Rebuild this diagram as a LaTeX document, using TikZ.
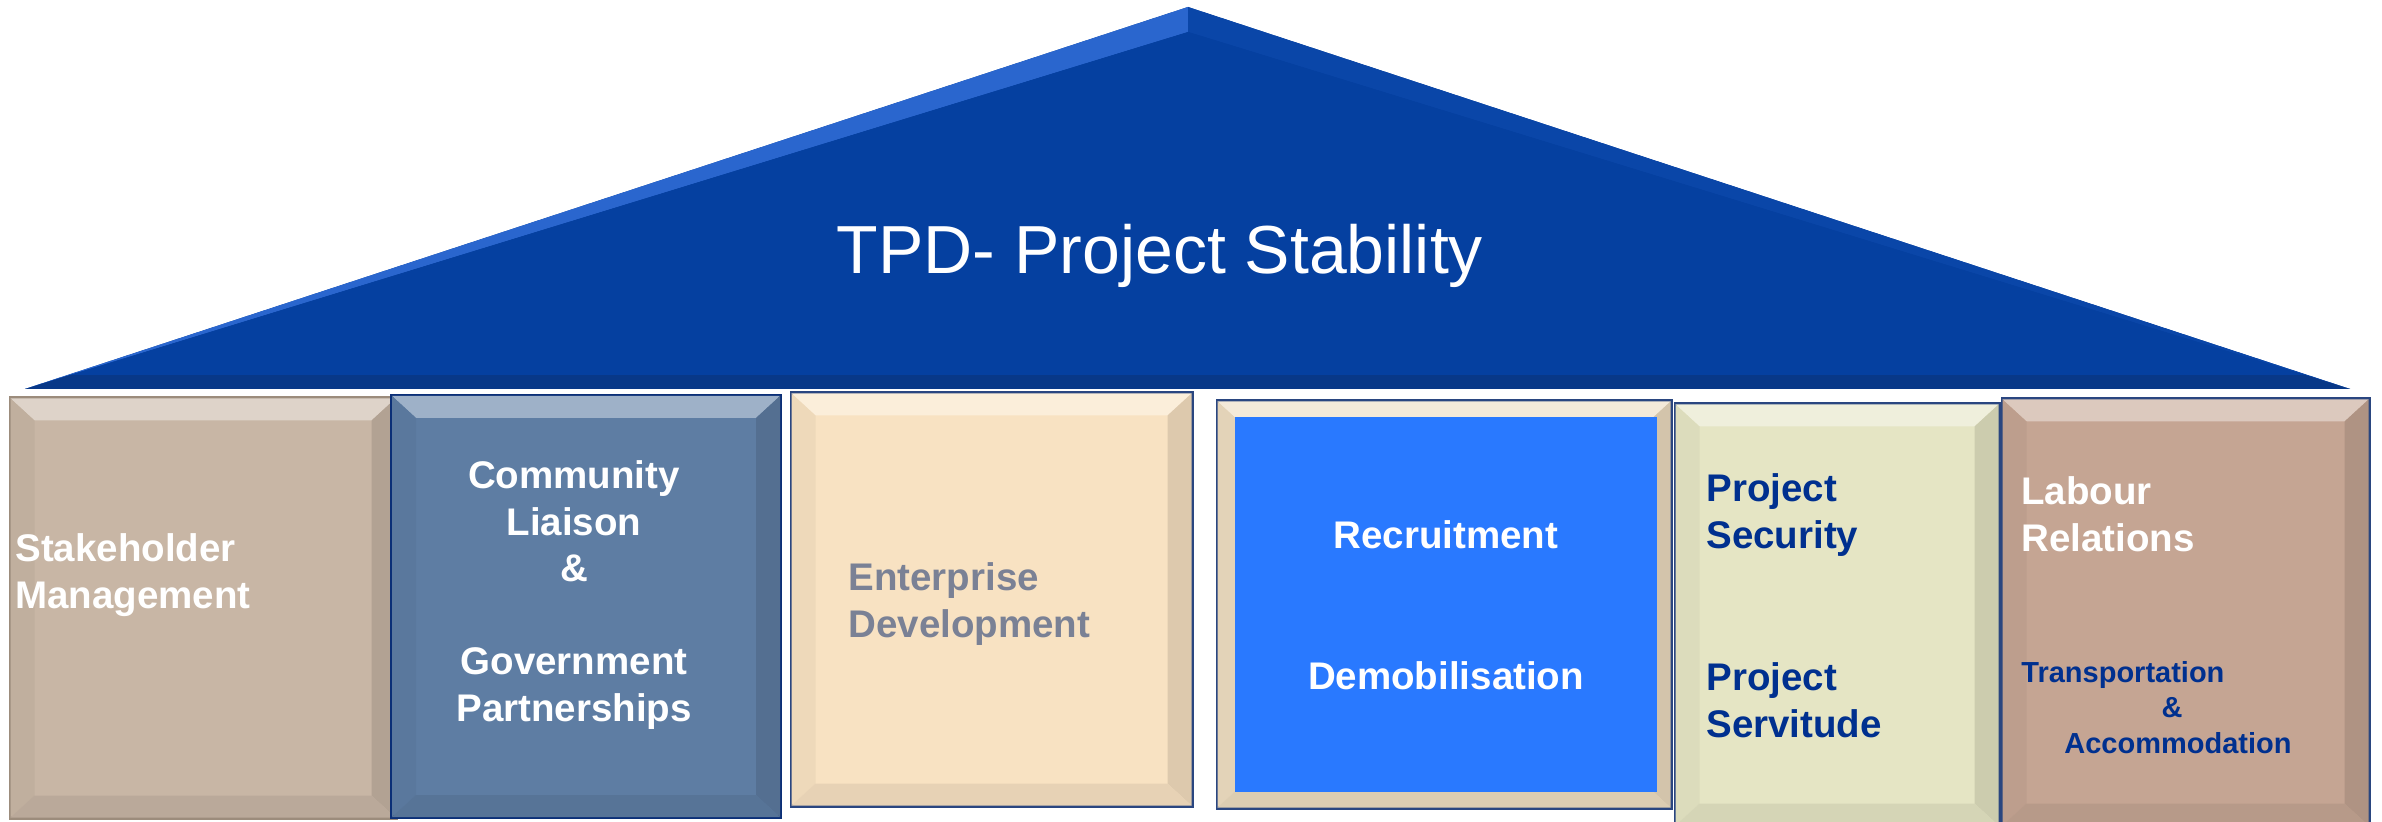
\documentclass[tikz,border=0pt]{standalone}
\usepackage{fontspec}
\setmainfont{Liberation Sans}
\usetikzlibrary{calc}
\definecolor{triblue}{HTML}{0540A0}
\definecolor{trilight}{HTML}{2A66CE}
\definecolor{triside}{HTML}{0A46A8}
\definecolor{tridark}{HTML}{083888}
\definecolor{navyedge}{HTML}{2A4680}
\definecolor{shbase}{HTML}{C8B6A5}
\definecolor{shedge}{HTML}{9C8C7C}
\definecolor{clbase}{HTML}{5E7DA3}
\definecolor{cledge}{HTML}{0B2F77}
\definecolor{edbase}{HTML}{F8E2C2}
\definecolor{edtext}{HTML}{7A8195}
\definecolor{rdbase}{HTML}{EDDCC0}
\definecolor{rdface}{HTML}{2979FF}
\definecolor{psbase}{HTML}{E5E5C4}
\definecolor{pstext}{HTML}{00308F}
\definecolor{lrbase}{HTML}{C5A593}
\tikzset{
  pillar/.style={draw=navyedge, line width=1.5pt, inner sep=0pt},
  head/.style={font=\bfseries\fontsize{19.25pt}{23.25pt}\selectfont, inner sep=0pt},
  lhead/.style={head, align=left, anchor=west},
  chead/.style={head, align=center},
  small/.style={font=\bfseries\fontsize{14.5pt}{17.75pt}\selectfont, inner sep=0pt, text=pstext},
  headline/.style={font=\fontsize{34pt}{40pt}\selectfont, text=white, inner sep=0pt}
}
% bevelled rim inside a pillar: node, base colour
\newcommand\bevel[2]{
  \fill[#2!60!white] ($(#1.north west)+(1pt,-1pt)$) -- ($(#1.north east)+(-1pt,-1pt)$)
    -- ($(#1.north east)+(-13pt,-12pt)$) -- ($(#1.north west)+(13pt,-12pt)$) -- cycle;
  \fill[#2!96!black] ($(#1.north west)+(1pt,-1pt)$) -- ($(#1.north west)+(13pt,-12pt)$)
    -- ($(#1.south west)+(13pt,12pt)$) -- ($(#1.south west)+(1pt,1pt)$) -- cycle;
  \fill[#2!89!black] ($(#1.north east)+(-1pt,-1pt)$) -- ($(#1.north east)+(-13pt,-12pt)$)
    -- ($(#1.south east)+(-13pt,12pt)$) -- ($(#1.south east)+(-1pt,1pt)$) -- cycle;
  \fill[#2!93!black] ($(#1.south west)+(1pt,1pt)$) -- ($(#1.south west)+(13pt,12pt)$)
    -- ($(#1.south east)+(-13pt,12pt)$) -- ($(#1.south east)+(-1pt,1pt)$) -- cycle;
}
\begin{document}
\begin{tikzpicture}[x=0.5pt, y=-0.5pt]
  \path[use as bounding box, fill=white] (0,0) rectangle (2382,822);

  % roof
  \coordinate (apex) at (1188,7);
  \coordinate (baseL) at (25,389);
  \coordinate (baseR) at (2350,389);
  \fill[triblue] (baseL) -- (apex) -- (baseR) -- cycle;
  \fill[trilight] (baseL) -- (apex) -- (1188,32) -- (70,375) -- cycle;
  \fill[triside] (apex) -- (baseR) -- (2305,375) -- (1188,32) -- cycle;
  \fill[tridark] (baseL) -- (baseR) -- (2305,375) -- (70,375) -- cycle;
  \fill[triblue] (70,375) -- (1188,32) -- (2305,375) -- cycle;
  \node[headline, anchor=base] (roof) at (1160,274) {TPD- Project Stability};

  % pillars
  \node[pillar, draw=shedge, fill=shbase, minimum width=193pt, minimum height=210pt] (sh) at (203,608) {};
  \bevel{sh}{shbase}
  \node[pillar, draw=cledge, line width=2pt, fill=clbase, minimum width=194pt, minimum height=210.5pt] (cl) at (586,606.5) {};
  \bevel{cl}{clbase}
  \node[pillar, fill=edbase, minimum width=200.5pt, minimum height=206.5pt] (ed) at (991.5,599.5) {};
  \bevel{ed}{edbase}
  \node[pillar, fill=rdbase, minimum width=227pt, minimum height=203.5pt] (rd) at (1444,604.5) {};
  \bevel{rd}{rdbase}
  \node[fill=rdface, inner sep=0pt, minimum width=211pt, minimum height=187.5pt] (rdf) at (1446,604.5) {};
  \node[pillar, fill=psbase, minimum width=162pt, minimum height=211pt] (ps) at (1837,615) {};
  \bevel{ps}{psbase}
  \node[pillar, fill=lrbase, minimum width=183.5pt, minimum height=213.5pt] (lr) at (2185.5,612.5) {};
  \bevel{lr}{lrbase}

  % pillar texts
  \node[lhead, text=white] (shtxt) at (15,575) {Stakeholder\\Management};
  \node[chead, text=white] (cltxt) at (574,595) {Community\\Liaison\\\&\\[23.25pt]Government\\Partnerships};
  \node[lhead, text=edtext] (edtxt) at (848,604) {Enterprise\\Development};
  \node[chead, text=white] (rdtxt) at (1446,605) {Recruitment\\[47pt]Demobilisation};
  \node[lhead, text=pstext] (ps1) at (1706,515) {Project\\Security};
  \node[lhead, text=pstext] (ps2) at (1706,700) {Project\\Servitude};
  \node[lhead, text=white] (lrtxt) at (2021,514) {Labour\\Relations};
  \node[small, anchor=base west] (trans) at (2021,683) {Transportation};
  \node[small, anchor=base] (amp) at (2172,718) {\&};
  \node[small, anchor=base] (acc) at (2178,754) {Accommodation};
\end{tikzpicture}
\end{document}
